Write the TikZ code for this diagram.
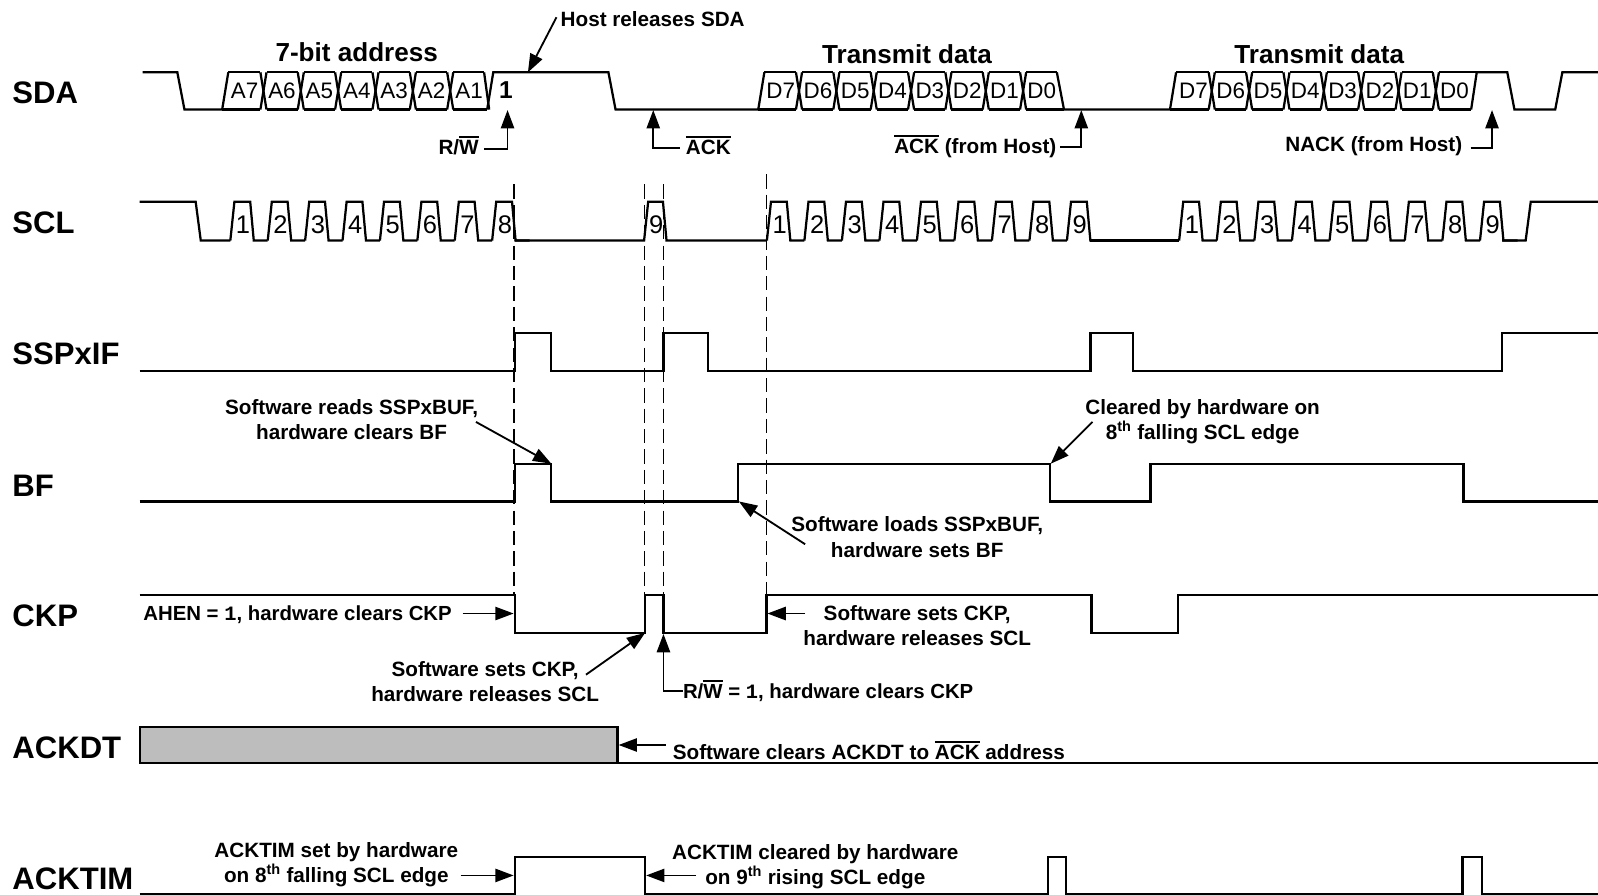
\documentclass[tikz,border=0pt]{standalone}
\usepackage{fontspec}
\setmainfont{Liberation Sans}
\newfontfamily\monof{Liberation Mono}
\usetikzlibrary{arrows.meta}
\newcommand\ovl[1]{\leavevmode\setbox0\hbox{#1}\rlap{\rule[\dimexpr\ht0+2.2pt]{\wd0}{1.8pt}}\box0\relax}
\newcommand\mone{{\monof 1}}
\newcommand\databus[6]{% first rise base, first top, first crossing, n crossings, end top x, end bottom x
  \draw[sig] (#1,107.5) -- (#2,71);
  \draw[sig] (#2,71) -- ({#3-3},71);
  \draw[sig] (#1,107.5) -- ({#3-3},107.5);
  \foreach \i [evaluate=\i as \c using #3+36.65*(\i-1)] in {1,...,#4}{
    \draw[sig] ({\c-3},71) -- ({\c+3},107.5);
    \draw[sig] ({\c-3},107.5) -- ({\c+3},71);
    \ifnum\i<#4
      \draw[sig] ({\c+3},71) -- ({\c+36.65-3},71);
      \draw[sig] ({\c+3},107.5) -- ({\c+36.65-3},107.5);
    \else
      \draw[sig] ({\c+3},71) -- (#5,71);
      \draw[sig] ({\c+3},107.5) -- (#6,107.5);
    \fi
  }}
\newcommand\sclpulses[4]{% tag, first base, count, period
  \foreach \k [evaluate=\k as \b using #2+#4*(\k-1)] in {1,...,#3}{
    \draw[sig] (\b,236) -- ({\b+4},198) -- ({\b+19.5},198) -- ({\b+23},236) -- ({\b+#4},236);
    \node[numlab] (#1\k) at ({\b+12.5},229) {\k};
  }}
\tikzset{
  sig/.style={line width=2.2pt,line join=miter,line cap=butt},
  guide/.style={line width=1.6pt,dash pattern=on 14pt off 6pt},
  ptr/.style={line width=1.8pt,-{Triangle[length=18pt,width=13pt]}},
  siglab/.style={font=\fontsize{30.5}{34}\selectfont\bfseries,anchor=west,inner sep=0pt},
  head/.style={font=\fontsize{25.6}{30}\selectfont\bfseries,inner sep=0pt},
  note/.style={font=\fontsize{20.3}{24.6}\selectfont\bfseries,align=center,inner sep=0pt},
  notetight/.style={font=\fontsize{20}{24.6}\selectfont\bfseries,align=center,inner sep=0pt},
  buslab/.style={font=\fontsize{22}{24}\selectfont,inner sep=0pt,anchor=base},
  numlab/.style={font=\fontsize{25}{26}\selectfont,inner sep=0pt,anchor=base},
}
\begin{document}
\begin{tikzpicture}[x=1pt,y=-1pt]
\useasboundingbox (0,0) rectangle (1568,878);
% signal names
\node[siglab] (nSDA) at (12,91) {SDA};
\node[siglab] (nSCL) at (12,219) {SCL};
\node[siglab] (nSSP) at (12,347) {SSPxIF};
\node[siglab] (nBF) at (12,476.5) {BF};
\node[siglab] (nCKP) at (12,604) {CKP};
\node[siglab] (nACKDT) at (12,733.5) {ACKDT};
\node[siglab] (nACKTIM) at (12,862) {ACKTIM};
% headings
\node[head] (h1) at (350,51.5) {7-bit address};
\node[head] (h2) at (890,53) {Transmit data};
\node[head] (h3) at (1294.5,53) {Transmit data};
% SDA
\draw[sig] (140,71) -- (174,71) -- (181,107.5) -- (218,107.5);
\databus{218}{224}{258.5}{6}{475}{478}
\draw[sig] (475,71) -- (480,107.5);
\draw[sig] (478,107.5) -- (484,71) -- (597,71) -- (604,107.5) -- (744,107.5);
\databus{744}{750}{784}{7}{1037}{1044}
\draw[sig] (1037,71) -- (1044,107.5) -- (1148,107.5);
\databus{1148}{1154}{1189}{7}{1449}{1443.5}
\draw[sig] (1443.5,107.5) -- (1449,71) -- (1479,71) -- (1486,107.5) -- (1526,107.5) -- (1533,71) -- (1568,71);
\foreach \i/\t in {1/A7,2/A6,3/A5,4/A4,5/A3,6/A2,7/A1}
  \node[buslab] (a\i) at ({240+36.7*(\i-1)},96.5) {\t};
\foreach \i/\t in {1/D7,2/D6,3/D5,4/D4,5/D3,6/D2,7/D1,8/D0}{
  \node[buslab] (d\i) at ({766+36.6*(\i-1)},96.5) {\t};
  \node[buslab] (e\i) at ({1171+36.6*(\i-1)},96.5) {\t};
}
\node[font=\fontsize{24}{26}\selectfont\bfseries,inner sep=0pt] (one) at (496.5,88) {1};
% SCL
\draw[sig] (137,198) -- (192,198) -- (197,236) -- (226,236);
\sclpulses{p}{226}{8}{36.7}
\draw[sig] (505,236) -- (632,236) -- (636,198) -- (650.5,198) -- (654,236) -- (752.5,236);
\node[numlab] (p9) at (644,229) {9};
\sclpulses{q}{752.5}{9}{36.8}
\draw[sig] (1070,236) -- (1157,236);
\sclpulses{r}{1157}{9}{36.9}
\draw[sig] (1474,236) -- (1497,236) -- (1502,198) -- (1568,198);
% SSPxIF
\draw[sig] (137,364) -- (505,364) -- (505,327) -- (541,327) -- (541,364) -- (651,364) -- (651,327) -- (695,327) -- (695,364) -- (1070,364) -- (1070,327) -- (1112,327) -- (1112,364) -- (1474,364) -- (1474,327) -- (1568,327);
% BF
\draw[sig] (137,492) -- (505,492) -- (505,455) -- (541,455) -- (541,492) -- (724,492) -- (724,455) -- (1030,455) -- (1030,492) -- (1129,492) -- (1129,455) -- (1436,455) -- (1436,492) -- (1568,492);
% CKP
\draw[sig] (137,584) -- (505,584) -- (505,621) -- (633,621) -- (633,584) -- (651,584) -- (651,621) -- (752,621) -- (752,584) -- (1071,584) -- (1071,621) -- (1156,621) -- (1156,584) -- (1568,584);
% ACKDT
\draw[sig,fill=black!26!white] (137,713) rectangle (606,749);
\draw[sig] (606,749) -- (1568,749);
% ACKTIM
\draw[sig] (137,877) -- (505,877) -- (505,841) -- (633,841) -- (633,877) -- (1028,877) -- (1028,841) -- (1046,841) -- (1046,877) -- (1435,877) -- (1435,841) -- (1454,841) -- (1454,877) -- (1568,877);
% guides
\coordinate (g1t) at (504.5,181); \coordinate (g1b) at (504.5,584);
\coordinate (g2t) at (632.5,181); \coordinate (g2b) at (632.5,584);
\coordinate (g3t) at (651,181); \coordinate (g3b) at (651,584);
\coordinate (g4t) at (752,171); \coordinate (g4b) at (752,584);
\draw[guide] (g1t) -- (g1b);
\draw[guide] (g2t) -- (g2b);
\draw[guide] (g3t) -- (g3b);
\draw[guide] (g4t) -- (g4b);
% annotations
\node[note,anchor=west] (host) at (550,19) {Host releases SDA};
\coordinate (hostT) at (518,71); \coordinate (hostS) at (546,17);
\draw[ptr] (hostS) -- (hostT);
\node[note] (rw) at (450,143) {R/\ovl{W}};
\coordinate (rwS) at (475,146); \coordinate (rwC) at (498,146); \coordinate (rwT) at (498,108);
\draw[ptr] (rwS) -- (rwC) -- (rwT);
\node[note] (ack) at (695,143) {\ovl{ACK}};
\coordinate (ackS) at (667,145); \coordinate (ackC) at (641,145); \coordinate (ackT) at (641,108);
\draw[ptr] (ackS) -- (ackC) -- (ackT);
\node[note] (ackh) at (957,143.5) {\ovl{ACK} (from Host)};
\coordinate (ackhS) at (1040,144); \coordinate (ackhC) at (1061,144); \coordinate (ackhT) at (1061,108);
\draw[ptr] (ackhS) -- (ackhC) -- (ackhT);
\node[note] (nack) at (1348,143.5) {NACK (from Host)};
\coordinate (nackS) at (1443,145); \coordinate (nackC) at (1464,145); \coordinate (nackT) at (1464,108);
\draw[ptr] (nackS) -- (nackC) -- (nackT);
\node[note] (swr) at (345,412) {Software reads SSPxBUF,\\hardware clears BF};
\coordinate (swrS) at (467,414); \coordinate (swrT) at (541,455);
\draw[ptr] (swrS) -- (swrT);
\node[note] (clr) at (1180,413.5) {Cleared by hardware on\\8\textsuperscript{th} falling SCL edge};
\coordinate (clrS) at (1072,414); \coordinate (clrT) at (1031,455);
\draw[ptr] (clrS) -- (clrT);
\node[note] (swl) at (900,527) {Software loads SSPxBUF,\\hardware sets BF};
\coordinate (swlS) at (790,534); \coordinate (swlT) at (725,492);
\draw[ptr] (swlS) -- (swlT);
\node[notetight] (ahen) at (292,603) {AHEN = \mone, hardware clears CKP};
\coordinate (ahenS) at (454,602); \coordinate (ahenT) at (504,602);
\draw[ptr] (ahenS) -- (ahenT);
\node[note] (sws) at (476,669) {Software sets CKP,\\hardware releases SCL};
\coordinate (swsS) at (575,662); \coordinate (swsT) at (633,621);
\draw[ptr] (swsS) -- (swsT);
\node[notetight,anchor=west] (rwo) at (670,678) {R/\ovl{W} = \mone, hardware clears CKP};
\coordinate (rwoS) at (670,678); \coordinate (rwoC) at (651,678); \coordinate (rwoT) at (651,622);
\draw[ptr] (rwoS) -- (rwoC) -- (rwoT);
\node[note] (swt) at (900,614) {Software sets CKP,\\hardware releases SCL};
\coordinate (swtS) at (790,602); \coordinate (swtT) at (753,602);
\draw[ptr] (swtS) -- (swtT);
\node[note,anchor=west] (clk) at (660,736.5) {Software clears ACKDT to \ovl{ACK} address};
\coordinate (clkS) at (653,731); \coordinate (clkT) at (607,731);
\draw[ptr] (clkS) -- (clkT);
\node[note] (tset) at (330,848.5) {ACKTIM set by hardware\\on 8\textsuperscript{th} falling SCL edge};
\coordinate (tsetS) at (452,859); \coordinate (tsetT) at (504,859);
\draw[ptr] (tsetS) -- (tsetT);
\node[note] (tclr) at (800,850) {ACKTIM cleared by hardware\\on 9\textsuperscript{th} rising SCL edge};
\coordinate (tclrS) at (683,859); \coordinate (tclrT) at (634,859);
\draw[ptr] (tclrS) -- (tclrT);
\end{tikzpicture}
\end{document}
